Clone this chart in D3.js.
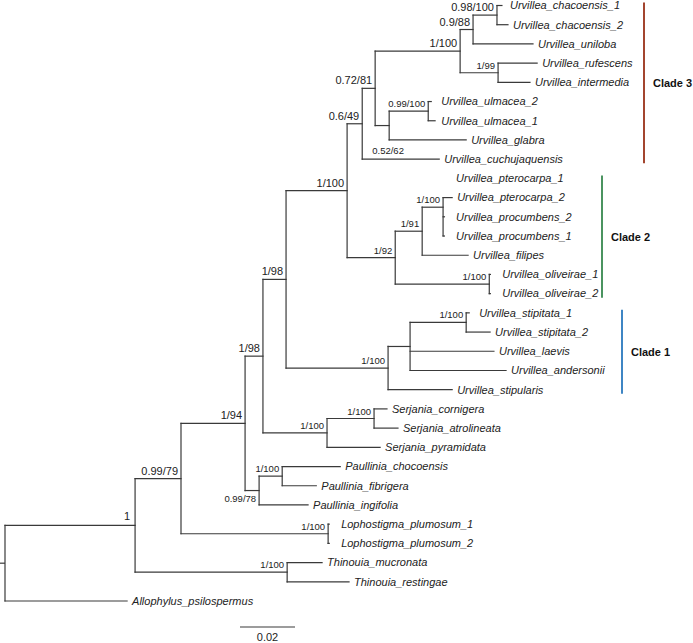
<!DOCTYPE html>
<html>
<head>
<meta charset="utf-8">
<script src="https://cdn.jsdelivr.net/npm/d3@7/dist/d3.min.js"></script>
<style>
  html, body { margin: 0; padding: 0; background: #fff; }
  svg { display: block; }
</style>
</head>
<body>
<svg id="chart" width="693" height="643"></svg>
<script>
// ---------- DATA ----------
const nodeIds = [
  "root", "n1", "n099_79", "n1_94", "n1_98a", "n1_98b", "nU23", "n06_49", "n072_81", "n1_100c3",
  "n09_88", "n098_100", "Urvillea_chacoensis_1", "Urvillea_chacoensis_2", "Urvillea_uniloba",
  "n1_99", "Urvillea_rufescens", "Urvillea_intermedia", "nUG", "nUlm", "Urvillea_ulmacea_2",
  "Urvillea_ulmacea_1", "Urvillea_glabra", "Urvillea_cuchujaquensis", "nC2", "n1_91", "nPter",
  "Urvillea_pterocarpa_1", "Urvillea_pterocarpa_2", "Urvillea_procumbens_2", "Urvillea_procumbens_1",
  "Urvillea_filipes", "nOliv", "Urvillea_oliveirae_1", "Urvillea_oliveirae_2", "nC1", "nC1s",
  "nStip", "Urvillea_stipitata_1", "Urvillea_stipitata_2", "Urvillea_laevis", "Urvillea_andersonii",
  "Urvillea_stipularis", "nSer", "nSer2", "Serjania_cornigera", "Serjania_atrolineata",
  "Serjania_pyramidata", "nPau", "nPau2", "Paullinia_chocoensis", "Paullinia_fibrigera",
  "Paullinia_ingifolia", "nLoph", "Lophostigma_plumosum_1", "Lophostigma_plumosum_2", "nThin",
  "Thinouia_mucronata", "Thinouia_restingae", "Allophylus_psilospermus"
];
const parentIds = [
  "", "root", "n1", "n099_79", "n1_94", "n1_98a", "n1_98b", "nU23", "n06_49", "n072_81",
  "n1_100c3", "n09_88", "n098_100", "n098_100", "n09_88",
  "n1_100c3", "n1_99", "n1_99", "n072_81", "nUG", "nUlm",
  "nUlm", "nUG", "n06_49", "nU23", "nC2", "n1_91",
  "nPter", "nPter", "nPter", "nPter",
  "n1_91", "nC2", "nOliv", "nOliv", "n1_98b", "nC1",
  "nC1s", "nStip", "nStip", "nC1s", "nC1s",
  "nC1", "n1_98a", "nSer", "nSer2", "nSer2",
  "nSer", "n1_94", "nPau", "nPau2", "nPau2",
  "nPau", "n099_79", "nLoph", "nLoph", "n1",
  "nThin", "nThin", "root"
];
const branchLengths = [
  0, 0.0473, 0.0167, 0.0233, 0.0065, 0.0084, 0.0222, 0.0055, 0.0047, 0.0309,
  0.0047, 0.0087, 0.0018, 0.0040, 0.0218,
  0.0138, 0.0142, 0.0116, 0.0051, 0.0142, 0.0011,
  0.0025, 0.0280, 0.0280, 0.0175, 0.0098, 0.0076,
  0, 0.0033, 0.0005, 0.0005,
  0.0167, 0.0342, 0.0004, 0.0004, 0.0371, 0.0080,
  0.0204, 0.0011, 0.0087, 0.0305, 0.0349,
  0.0233, 0.0233, 0.0171, 0.0047, 0.0087,
  0.0193, 0.0051, 0.0084, 0.0211, 0.0124,
  0.0178, 0.0535, 0.0004, 0.0004, 0.0553,
  0.0127, 0.0225, 0.0444
];
const supportValues = [
  "", "1", "0.99/79", "1/94", "1/98", "1/98", "1/100", "0.6/49", "0.72/81", "1/100",
  "0.9/88", "0.98/100", "", "", "",
  "1/99", "", "", "0.52/62", "0.99/100", "",
  "", "", "", "1/92", "1/91", "1/100",
  "", "", "", "",
  "", "1/100", "", "", "1/100", "",
  "1/100", "", "", "", "",
  "", "1/100", "1/100", "", "",
  "", "0.99/78", "1/100", "", "",
  "", "1/100", "", "", "1/100",
  "", "", ""
];
// major (larger-type) support labels
const majorSupportNodes = ["n1", "n099_79", "n1_94", "n1_98a", "n1_98b", "nU23", "n06_49", "n072_81", "n1_100c3", "n09_88", "n098_100"];

const cladeNames = ["Clade 3", "Clade 2", "Clade 1"];
const cladeFirstLeaf = ["Urvillea_chacoensis_1", "Urvillea_pterocarpa_1", "Urvillea_stipitata_1"];
const cladeLastLeaf = ["Urvillea_cuchujaquensis", "Urvillea_oliveirae_2", "Urvillea_stipularis"];
const cladeColors = ["#a3452f", "#4b9460", "#3f86c4"];

const scaleBarValue = 0.02;
const scaleBarLabel = "0.02";

// ---------- BUILD ----------
const table = nodeIds.map((id, i) => ({
  id, parent: parentIds[i], len: branchLengths[i], support: supportValues[i]
}));
const root = d3.stratify().id(d => d.id).parentId(d => d.parent || null)(table);

root.each(n => { n.depthLen = n.parent ? n.parent.depthLen + n.data.len : 0; });
// ensure parents before children
root.eachBefore(n => { n.depthLen = n.parent ? n.parent.depthLen + n.data.len : 0; });

const leaves = root.leaves();
const x = d3.scaleLinear().domain([0, 0.2]).range([5, 555]);
const y = d3.scalePoint().domain(leaves.map(d => d.id)).range([5.5, 601]).padding(0);

root.eachAfter(n => {
  n.px = x(n.depthLen);
  if (!n.children) n.py = y(n.id);
  else n.py = (n.children[0].py + n.children[n.children.length - 1].py) / 2;
});

const svg = d3.select("#chart");
const font = "'Liberation Sans', Arial, Helvetica, sans-serif";
const lineColor = "#3a3a3a";
const g = svg.append("g");

// horizontal branches
root.descendants().filter(n => n.parent && n.data.len > 0).forEach(n => {
  g.append("line")
    .attr("x1", n.parent.px).attr("x2", n.px)
    .attr("y1", n.py).attr("y2", n.py)
    .attr("stroke", lineColor).attr("stroke-width", 1.2).attr("stroke-linecap", "square");
});
// vertical connectors
root.descendants().filter(n => n.children).forEach(n => {
  const drawn = n.children.filter(c => c.data.len > 0);
  const ys = drawn.map(c => c.py);
  g.append("line")
    .attr("x1", n.px).attr("x2", n.px)
    .attr("y1", d3.min(ys)).attr("y2", d3.max(ys))
    .attr("stroke", lineColor).attr("stroke-width", 1.2).attr("stroke-linecap", "square");
});
// root stub
g.append("line")
  .attr("x1", 0).attr("x2", root.px)
  .attr("y1", root.py).attr("y2", root.py)
  .attr("stroke", lineColor).attr("stroke-width", 1.2);

// leaf labels
leaves.forEach(n => {
  const lx = Math.max(n.px + 5, n.parent.px + 13);
  g.append("text")
    .attr("x", lx).attr("y", n.py).attr("dy", "0.35em")
    .attr("font-family", font).attr("font-style", "italic")
    .attr("font-size", 11).attr("fill", "#222")
    .text(n.id);
});

// support labels
root.descendants().filter(n => n.data.support).forEach(n => {
  const major = majorSupportNodes.includes(n.id);
  let tx = n.px - 3, ty = n.py - 4, anchor = "end";
  if (n.id === "nPau") { ty = n.py + 11; }
  if (n.id === "nUG") { anchor = "start"; tx = n.parent.parent.px + 10; ty = n.py + 28; }
  if (n.id === "n1") { tx = n.px - 5; ty = n.py - 5; }
  g.append("text")
    .attr("x", tx).attr("y", ty)
    .attr("text-anchor", anchor)
    .attr("font-family", font)
    .attr("font-size", major ? 11 : 9.5)
    .attr("fill", "#222")
    .text(n.data.support);
});

// clade bars
const cladeX = [644, 602, 622];
cladeNames.forEach((name, i) => {
  const y1 = y(cladeFirstLeaf[i]) - 3, y2 = y(cladeLastLeaf[i]) + 4;
  svg.append("line")
    .attr("x1", cladeX[i]).attr("x2", cladeX[i])
    .attr("y1", y1).attr("y2", y2)
    .attr("stroke", cladeColors[i]).attr("stroke-width", 2);
  svg.append("text")
    .attr("x", cladeX[i] + 9).attr("y", (y1 + y2) / 2 + 4)
    .attr("font-family", font).attr("font-weight", "bold")
    .attr("font-size", 11).attr("fill", "#111")
    .text(name);
});

// scale bar
const sbX0 = 240;
const sbX1 = sbX0 + (x(scaleBarValue) - x(0));
svg.append("line")
  .attr("x1", sbX0).attr("x2", sbX1).attr("y1", 627).attr("y2", 627)
  .attr("stroke", lineColor).attr("stroke-width", 1.2);
svg.append("text")
  .attr("x", (sbX0 + sbX1) / 2).attr("y", 641)
  .attr("text-anchor", "middle")
  .attr("font-family", font).attr("font-size", 11).attr("fill", "#222")
  .text(scaleBarLabel);
</script>
</body>
</html>
